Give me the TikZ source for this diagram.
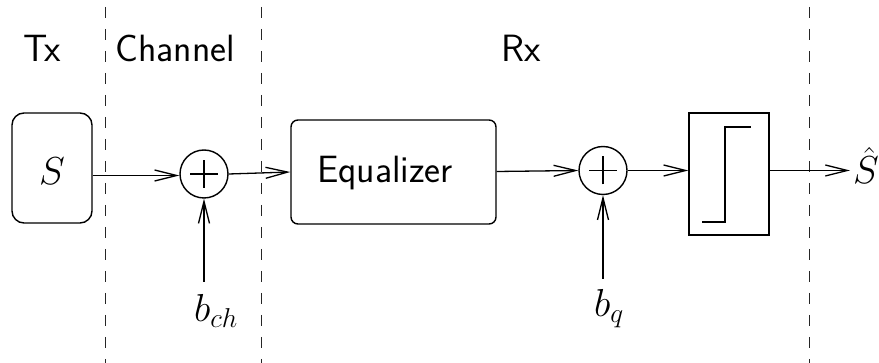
\documentclass[tikz,border=0pt]{standalone}
\usepackage{fix-cm}
\usetikzlibrary{arrows.meta}
\begin{document}
\begin{tikzpicture}[x=1pt,y=-1pt,
  txt/.style={font=\fontsize{38}{44}\selectfont\sffamily, inner sep=0pt},
  mth/.style={font=\fontsize{39}{44}\selectfont, inner sep=0pt},
  blk/.style={draw, line width=1.4pt, inner sep=0pt},
  sumnode/.style={draw, circle, line width=1.4pt, minimum size=48pt, inner sep=0pt},
  arr/.style={line width=1.3pt, -{Straight Barb[length=22pt,width=11pt,line width=1.3pt]}},
  sep/.style={line width=1.4pt, dash pattern=on 11pt off 11pt, black!85}]
\useasboundingbox (0,0) rectangle (879,363);
% separators
\draw[sep] (105.5,7) -- (105.5,363);
\draw[sep] (261.5,7) -- (261.5,363);
\draw[sep] (809.5,7) -- (809.5,363);
% headings
\node[txt, anchor=base] (tx) at (42,62) {Tx};
\node[txt, anchor=base] (chan) at (175,62) {Channel};
\node[txt, anchor=base] (rx) at (521,62) {Rx};
% blocks
\node[blk, rounded corners=12pt, minimum width=80pt, minimum height=110pt] (src) at (52,168) {};
\node[mth, anchor=base] (srclabel) at (52,185) {$S$};
\node[sumnode] (c1) at (204,174) {};
\draw[line width=1.3pt] ([xshift=-14pt]c1.center) -- ([xshift=14pt]c1.center);
\draw[line width=1.3pt] ([yshift=-14pt]c1.center) -- ([yshift=14pt]c1.center);
\node[blk, rounded corners=7pt, minimum width=205pt, minimum height=104pt] (eq) at (393.5,172) {};
\node[txt, anchor=base] (eqlabel) at (385,183) {Equalizer};
\node[sumnode] (c2) at (603,170.5) {};
\draw[line width=1.3pt] ([xshift=-14pt]c2.center) -- ([xshift=14pt]c2.center);
\draw[line width=1.3pt] ([yshift=-14pt]c2.center) -- ([yshift=14pt]c2.center);
\node[blk, minimum width=80pt, minimum height=122pt] (q) at (729,174) {};
\draw[line width=1.4pt] (702,222) -- (725,222) -- (725,127) -- (751,127);
\node[mth, anchor=base west] (shat) at (853,184) {$\hat{S}$};
% noise inputs
\node[mth, anchor=base west] (bch) at (194,322) {$b_{ch}$};
\node[mth, anchor=base west] (bq) at (594,317) {$b_q$};
\coordinate (bchtop) at (204,282);
\coordinate (bqtop) at (603,279);
% connectors
\draw[arr] (src.east |- 0,175.5) -- (c1.west |- 0,175.5);
\draw[arr] (c1.east) -- (eq.west);
\draw[arr] (eq.east |- 0,171.5) -- (c2.west);
\draw[arr] (c2.east) -- (q.west |- c2.east);
\draw[arr] (q.east |- c2.east) -- (850,170.5) coordinate (shatin);
\draw[arr] (bchtop) -- (c1.south);
\draw[arr] (bqtop) -- (c2.south);
\end{tikzpicture}
\end{document}
